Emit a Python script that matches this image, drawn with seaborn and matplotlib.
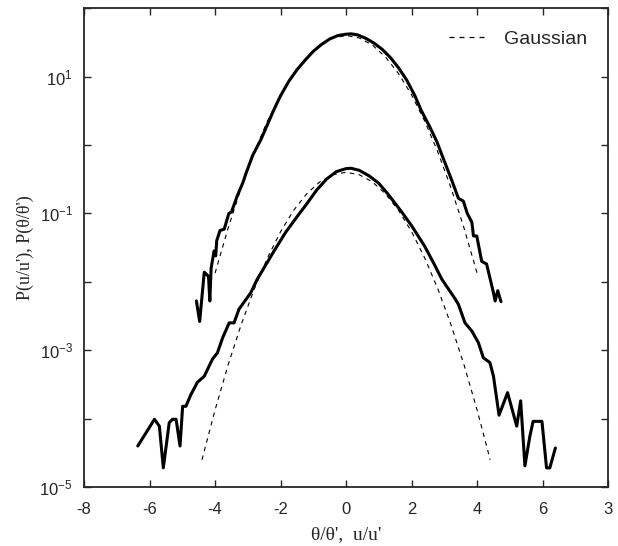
import numpy as np
import seaborn as sns
import pandas as pd
import matplotlib.pyplot as plt
from matplotlib.lines import Line2D

# Upper curve: P(theta/theta') (log10 values)
theta_x = [-4.57, -4.47, -4.33, -4.20, -4.16, -4.12, -4.03, -3.98, -3.95, -3.85,
           -3.72, -3.58, -3.50, -3.32, -3.15, -3.06, -2.85, -2.60, -2.40, -2.20,
           -2.00, -1.75, -1.50, -1.25, -1.00, -0.75, -0.50, -0.25, 0.00, 0.15,
           0.35, 0.60, 0.85, 1.10, 1.35, 1.60, 1.85, 2.10, 2.30, 2.55,
           2.77, 2.97, 3.23, 3.43, 3.58, 3.70, 3.84, 3.89, 3.99, 4.14,
           4.29, 4.50, 4.55, 4.63, 4.73]
theta_logp = [-2.28, -2.58, -1.86, -1.92, -2.28, -1.80, -1.55, -1.62, -1.40, -1.25,
              -1.23, -1.00, -0.98, -0.74, -0.55, -0.42, -0.15, 0.08, 0.30, 0.52,
              0.72, 0.93, 1.10, 1.24, 1.37, 1.47, 1.55, 1.60, 1.62, 1.625,
              1.61, 1.56, 1.49, 1.40, 1.28, 1.13, 0.95, 0.72, 0.50, 0.27,
              0.05, -0.20, -0.52, -0.78, -0.82, -1.00, -1.13, -1.33, -1.33, -1.70,
              -1.74, -2.16, -2.28, -2.13, -2.29]

# Lower curve: P(u/u')
u_x = [-6.36, -5.85, -5.70, -5.58, -5.40, -5.30, -5.19, -5.07, -4.99, -4.89,
       -4.74, -4.54, -4.33, -4.08, -3.93, -3.77, -3.57, -3.42, -3.27, -2.91,
       -2.71, -2.56, -2.20, -1.85, -1.50, -1.20, -0.90, -0.60, -0.30, 0.00,
       0.15, 0.40, 0.70, 1.00, 1.30, 1.70, 2.00, 2.40, 2.70, 2.92,
       3.33, 3.43, 3.63, 3.84, 4.04, 4.19, 4.39, 4.50, 4.67, 4.93,
       5.21, 5.33, 5.46, 5.61, 5.71, 5.98, 6.12, 6.22, 6.39]
u_logp = [-4.40, -4.01, -4.11, -4.72, -4.06, -4.01, -4.01, -4.40, -3.82, -3.82,
          -3.65, -3.47, -3.38, -3.13, -3.04, -2.82, -2.60, -2.60, -2.40, -2.16,
          -1.96, -1.84, -1.55, -1.28, -1.05, -0.86, -0.66, -0.50, -0.39, -0.345,
          -0.34, -0.37, -0.45, -0.56, -0.73, -0.98, -1.18, -1.48, -1.75, -1.96,
          -2.25, -2.33, -2.60, -2.72, -2.89, -3.11, -3.18, -3.38, -3.95, -3.62,
          -4.11, -3.74, -4.69, -4.26, -4.04, -4.04, -4.72, -4.72, -4.43]

# Gaussian reference curves (dashed)
gauss_u_x = [-4.4, -4.0, -3.6, -3.2, -2.8, -2.4, -2.0, -1.6, -1.2, -0.8, -0.4, 0.0,
             0.4, 0.8, 1.2, 1.6, 2.0, 2.4, 2.8, 3.2, 3.6, 4.0, 4.4]
gauss_u_logp = [-4.602, -3.873, -3.213, -2.622, -2.101, -1.650, -1.267, -0.955, -0.712,
                -0.538, -0.434, -0.399, -0.434, -0.538, -0.712, -0.955, -1.267,
                -1.650, -2.101, -2.622, -3.213, -3.873, -4.602]
gauss_t_x = [-4.0, -3.6, -3.2, -2.8, -2.4, -2.0, -1.6, -1.2, -0.8, -0.4, 0.0,
             0.4, 0.8, 1.2, 1.6, 2.0, 2.4, 2.8, 3.2, 3.6, 4.0]
gauss_t_logp = [-1.873, -1.213, -0.622, -0.101, 0.350, 0.733, 1.045, 1.288, 1.462,
                1.566, 1.601, 1.566, 1.462, 1.288, 1.045, 0.733, 0.350, -0.101,
                -0.622, -1.213, -1.873]

x_ticks = [-8, -6, -4, -2, 0, 2, 4, 6, 8]
x_labels = ['-8', '-6', '-4', '-2', '0', '2', '4', '6', '3']
y_decades = [-5, -4, -3, -2, -1, 0, 1, 2]

sns.set_style('ticks')
plt.rcParams['font.family'] = ['Liberation Sans', 'DejaVu Sans']
plt.rcParams['mathtext.default'] = 'regular'
plt.rcParams['axes.unicode_minus'] = False

fig = plt.figure(figsize=(6.18, 5.46), dpi=100)
ax = fig.add_axes([0.136, 0.108, 0.848, 0.877])

theta_df = pd.DataFrame({'x': theta_x, 'p': 10 ** np.array(theta_logp)})
u_df = pd.DataFrame({'x': u_x, 'p': 10 ** np.array(u_logp)})
gu_df = pd.DataFrame({'x': gauss_u_x, 'p': 10 ** np.array(gauss_u_logp)})
gt_df = pd.DataFrame({'x': gauss_t_x, 'p': 10 ** np.array(gauss_t_logp)})

dash = (0, (4, 4))
sns.lineplot(data=gt_df, x='x', y='p', ax=ax, color='black', lw=0.8, linestyle=dash)
sns.lineplot(data=gu_df, x='x', y='p', ax=ax, color='black', lw=0.8, linestyle=dash)
sns.lineplot(data=theta_df, x='x', y='p', ax=ax, color='black', lw=2.2, sort=False)
sns.lineplot(data=u_df, x='x', y='p', ax=ax, color='black', lw=2.2, sort=False)

ax.set_yscale('log')
ax.set_xlim(-8, 8)
ax.set_ylim(1e-5, 1e2)
ax.set_xticks(x_ticks)
ax.set_xticklabels(x_labels, fontsize=12)
ax.set_yticks([10.0 ** d for d in y_decades])
ax.set_yticklabels(['$10^{%d}$' % d if d % 2 else '' for d in y_decades], fontsize=12)
ax.minorticks_off()
ax.tick_params(direction='in', length=5, width=1, top=True, right=True)
ax.tick_params(axis='x', pad=10.5)
ax.tick_params(axis='y', pad=8)
for s in ax.spines.values():
    s.set_linewidth(1.3)

ax.set_xlabel("θ/θ',  u/u'", family=['Liberation Serif', 'DejaVu Serif'], fontsize=14,
              labelpad=7)
ax.set_ylabel("P(u/u'), P(θ/θ')", family=['Liberation Serif', 'DejaVu Serif'], fontsize=13)

handle = Line2D([], [], color='black', lw=0.9, linestyle=(0, (4, 4)))
ax.legend([handle], ['Gaussian'], loc='upper right', frameon=False, fontsize=14,
          handlelength=2.0, handletextpad=0.8, bbox_to_anchor=(0.993, 0.99))

fig.savefig('out.png', dpi=100)
